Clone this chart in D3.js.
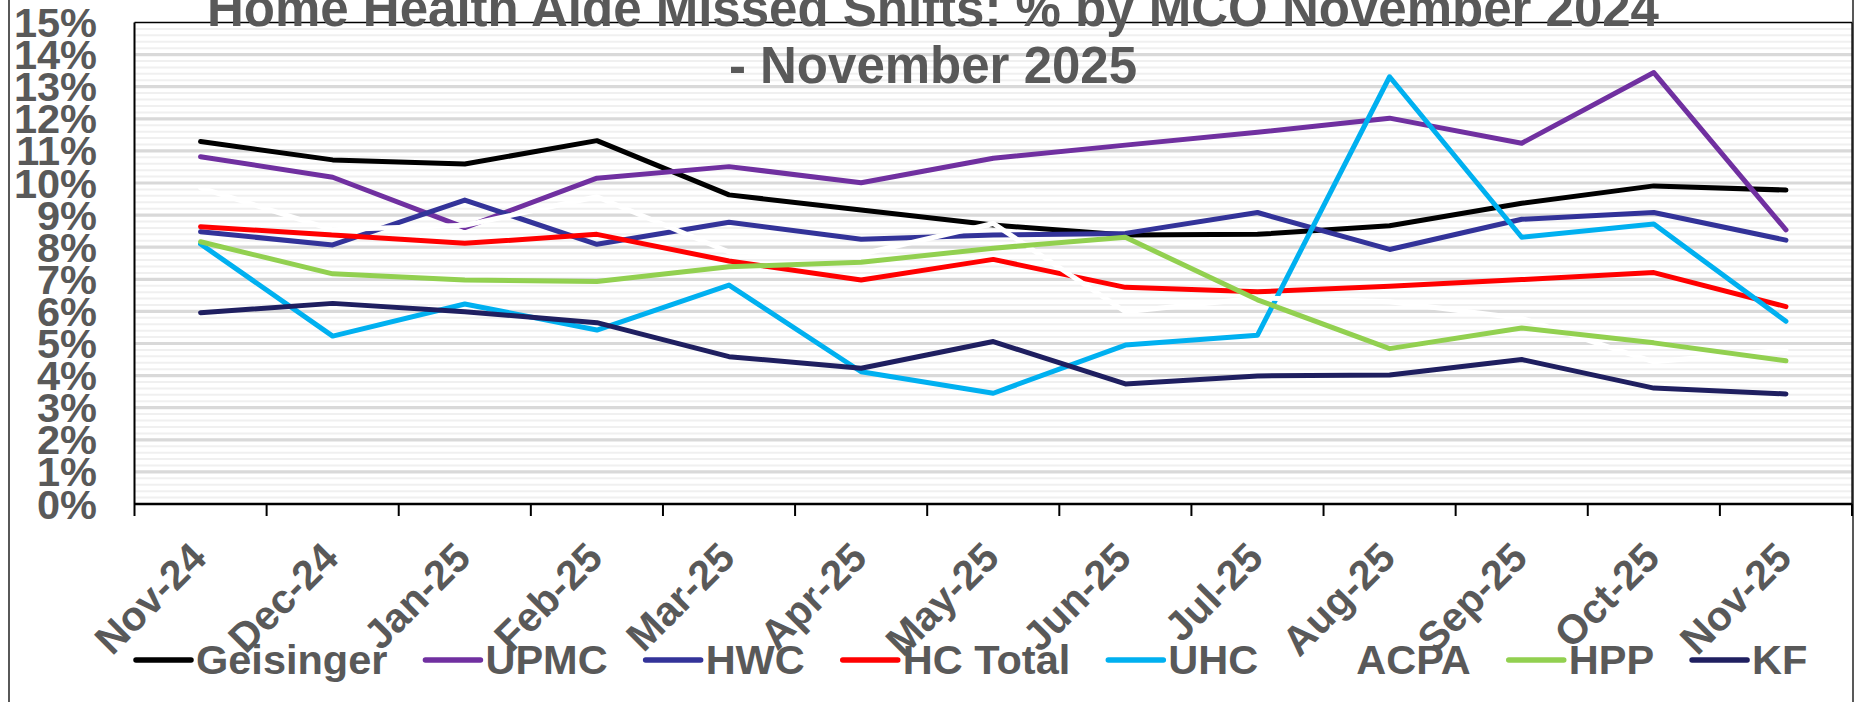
<!DOCTYPE html>
<html>
<head>
<meta charset="utf-8">
<script src="https://cdn.jsdelivr.net/npm/d3@7"></script>
<style>
  html, body { margin: 0; padding: 0; background: #fff; }
  svg { display: block; }
  text { font-family: "Liberation Sans", Arial, sans-serif; font-weight: bold; fill: #595959; }
</style>
</head>
<body>
<svg id="chart" width="1861" height="702"></svg>
<script>
const categories = ["Nov-24","Dec-24","Jan-25","Feb-25","Mar-25","Apr-25","May-25","Jun-25","Jul-25","Aug-25","Sep-25","Oct-25","Nov-25"];
const geisinger = [11.29,10.72,10.59,11.32,9.63,9.16,8.69,8.38,8.40,8.67,9.37,9.91,9.78];
const upmc      = [10.82,10.18,8.61,10.15,10.51,10.01,10.77,11.18,11.58,12.02,11.24,13.44,8.54];
const hwc       = [8.48,8.07,9.47,8.09,8.78,8.25,8.38,8.43,9.08,7.93,8.87,9.08,8.22];
const hcTotal   = [8.64,8.38,8.12,8.40,7.57,6.98,7.62,6.75,6.61,6.78,6.99,7.21,6.15];
const uhc       = [8.10,5.23,6.23,5.42,6.82,4.12,3.45,4.95,5.26,13.31,8.31,8.72,5.69];
const acpa      = [9.85,8.54,8.68,9.57,7.85,7.78,8.74,5.99,6.42,6.30,5.78,4.43,4.80];
const hpp       = [8.17,7.17,6.98,6.93,7.39,7.53,7.97,8.31,6.36,4.84,5.48,5.02,4.46];
const kf        = [5.96,6.25,5.99,5.65,4.59,4.23,5.06,3.74,3.99,4.02,4.50,3.61,3.43];
const seriesNames = ["Geisinger","UPMC","HWC","HC Total","UHC","ACPA","HPP","KF"];
const seriesColors = ["#000000","#7030A0","#333399","#FF0000","#00B0F0","#FFFFFF","#92D050","#1F1F60"];
const yTicks = [0,1,2,3,4,5,6,7,8,9,10,11,12,13,14,15];
const titleLines = ["Home Health Aide Missed Shifts: % by MCO November 2024", "- November 2025"];

const seriesValues = [geisinger, upmc, hwc, hcTotal, uhc, acpa, hpp, kf];
const series = seriesNames.map((n, i) => ({ name: n, color: seriesColors[i], values: seriesValues[i] }));

const svg = d3.select("#chart");
const plot = { left: 134.5, right: 1852, top: 22.5, bottom: 504 };

const x = d3.scaleBand().domain(categories).range([plot.left, plot.right]).padding(0);
const y = d3.scaleLinear().domain([0, 15]).range([plot.bottom, plot.top]);

// outer chart border
svg.append("rect").attr("x", 9).attr("y", -5).attr("width", 1853 - 9).attr("height", 720)
  .attr("fill", "none").attr("stroke", "#000").attr("stroke-width", 1.3);

// plot background
svg.append("rect").attr("x", plot.left).attr("y", plot.top)
  .attr("width", plot.right - plot.left).attr("height", plot.bottom - plot.top).attr("fill", "#fff");

// minor gridlines (every 0.2%)
const minor = d3.range(0, 75).map(i => i * 0.2).filter(v => Math.abs(v - Math.round(v)) > 1e-6);
svg.append("g").selectAll("line").data(minor).join("line")
  .attr("x1", plot.left).attr("x2", plot.right)
  .attr("y1", d => y(d)).attr("y2", d => y(d))
  .attr("stroke", "#f0f0f0").attr("stroke-width", 2);

// major gridlines
svg.append("g").selectAll("line").data(yTicks.filter(v => v > 0 && v < 15)).join("line")
  .attr("x1", plot.left).attr("x2", plot.right)
  .attr("y1", d => y(d)).attr("y2", d => y(d))
  .attr("stroke", "#d9d9d9").attr("stroke-width", 3.2);

// plot border
svg.append("line").attr("x1", plot.left).attr("x2", plot.right).attr("y1", plot.top).attr("y2", plot.top)
  .attr("stroke", "#000").attr("stroke-width", 1.5);
svg.append("line").attr("x1", plot.right).attr("x2", plot.right).attr("y1", plot.top).attr("y2", plot.bottom)
  .attr("stroke", "#000").attr("stroke-width", 1.3);

// y axis
const yAxis = svg.append("g").attr("transform", `translate(${plot.left},0)`)
  .call(d3.axisLeft(y).tickValues(yTicks).tickSize(0).tickFormat(d => d + "%"));
yAxis.select(".domain").remove();
yAxis.selectAll("text")
  .attr("x", 97 - plot.left).attr("dy", null).attr("dominant-baseline", null)
  .attr("transform", "translate(0,14)")
  .style("font-size", "41.5px").style("font-family", "'Liberation Sans', Arial, sans-serif")
  .style("font-weight", "bold").attr("fill", "#595959").attr("text-anchor", "end");
svg.append("line").attr("x1", plot.left).attr("x2", plot.left).attr("y1", plot.top).attr("y2", plot.bottom)
  .attr("stroke", "#000").attr("stroke-width", 2);

// x axis
const xAxis = svg.append("g").attr("transform", `translate(0,${plot.bottom})`)
  .call(d3.axisBottom(x).tickSize(0));
xAxis.select(".domain").remove();
xAxis.selectAll("text")
  .attr("y", 0).attr("x", 0).attr("dy", null)
  .attr("text-anchor", "end")
  .attr("transform", "translate(8,56) rotate(-45)")
  .style("font-size", "41px").style("font-family", "'Liberation Sans', Arial, sans-serif")
  .style("font-weight", "bold").attr("fill", "#595959");
const bounds = categories.map(c => x(c)).concat([plot.right]);
svg.append("g").selectAll("line").data(bounds).join("line")
  .attr("x1", d => d).attr("x2", d => d).attr("y1", plot.bottom).attr("y2", plot.bottom + 12)
  .attr("stroke", "#000").attr("stroke-width", 2);
svg.append("line").attr("x1", plot.left).attr("x2", plot.right).attr("y1", plot.bottom).attr("y2", plot.bottom)
  .attr("stroke", "#000").attr("stroke-width", 2.4);

// lines
const line = d3.line().x((d, i) => x(categories[i]) + x.bandwidth() / 2).y(d => y(d));
svg.append("g").selectAll("path").data(series).join("path")
  .attr("d", d => line(d.values))
  .attr("fill", "none").attr("stroke", d => d.color).attr("stroke-width", 5)
  .attr("stroke-linecap", "round").attr("stroke-linejoin", "round");

// title
const title = svg.append("text").attr("text-anchor", "middle")
  .style("font-size", "51px");
titleLines.forEach((t, i) => {
  title.append("tspan").attr("x", 933).attr("y", i === 0 ? 26 : 83).text(t);
});

// legend
const legend = svg.append("g");
let lx = 136;
const ly = 660;
series.forEach(s => {
  legend.append("line").attr("x1", lx).attr("x2", lx + 55).attr("y1", ly).attr("y2", ly)
    .attr("stroke", s.color).attr("stroke-width", 5.5).attr("stroke-linecap", "round");
  const t = legend.append("text").attr("x", lx + 60).attr("y", ly + 14)
    .style("font-size", "41.5px").text(s.name);
  lx = lx + 60 + t.node().getComputedTextLength() + 38;
});
</script>
</body>
</html>
